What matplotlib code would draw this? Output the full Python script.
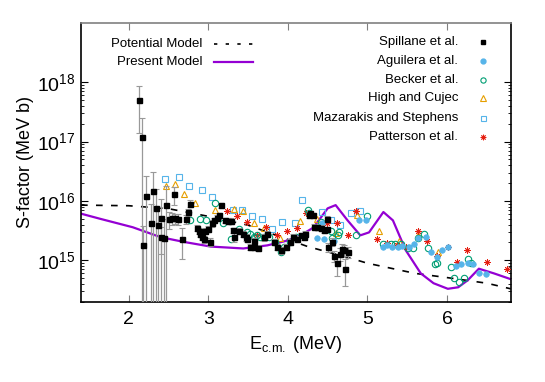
import matplotlib
matplotlib.use("Agg")
import matplotlib.pyplot as plt
import numpy as np

plt.rcParams['font.family'] = ['Liberation Sans', 'DejaVu Sans']
plt.rcParams['mathtext.fontset'] = 'custom'
plt.rcParams['mathtext.rm'] = 'Liberation Sans'
plt.rcParams['mathtext.it'] = 'Liberation Sans:italic'

# ---- model curves ----
pot_E = [1.40, 2.00, 2.50, 3.00, 3.50, 3.90, 4.25, 4.75, 5.00, 5.60, 6.00, 6.50, 6.80]
pot_S = [8.5e15, 8.3e15, 7.4e15, 5.5e15, 3.9e15, 2.5e15, 1.7e15, 1.12e15, 8.9e14,
         6.0e14, 5.1e14, 4.1e14, 3.3e14]

pres_E = [1.40, 1.64, 2.05, 2.40, 2.69, 3.03, 3.44, 3.74, 3.99, 4.16, 4.32, 4.50, 4.60,
          4.75, 4.91, 5.02, 5.20, 5.32, 5.48, 5.67, 5.83, 6.01, 6.14, 6.26, 6.40, 6.59, 6.80]
pres_S = [6.1e15, 5.0e15, 3.6e15, 2.45e15, 2.04e15, 1.7e15, 1.58e15, 1.78e15, 2.14e15,
          2.63e15, 3.55e15, 7.5e15, 8.5e15, 4.7e15, 2.63e15, 2.95e15, 6.5e15, 4.7e15,
          1.48e15, 6.0e14, 4.1e14, 3.3e14, 3.5e14, 4.6e14, 7.2e14, 6.0e14, 4.8e14]

# ---- Spillane et al. ----
spil_E = [2.13, 2.165, 2.185, 2.22, 2.28, 2.31, 2.34, 2.37, 2.40, 2.41,
          2.44, 2.47, 2.50, 2.54, 2.57, 2.58, 2.62, 2.67, 2.72, 2.74,
          2.77, 2.86, 2.88, 2.90, 2.92, 2.94, 2.96, 3.00, 3.02, 3.05,
          3.07, 3.11, 3.14, 3.16, 3.21, 3.25, 3.28, 3.31, 3.32, 3.38,
          3.44, 3.47, 3.49, 3.53, 3.57, 3.58, 3.63, 3.70, 3.74, 3.82,
          3.86, 3.91, 3.97, 4.03, 4.07, 4.12, 4.16, 4.20, 4.22, 4.26,
          4.28, 4.31, 4.33, 4.37, 4.41, 4.45, 4.49, 4.49, 4.51, 4.56,
          4.58, 4.62, 4.66, 4.68, 4.70, 4.72, 4.75]
spil_S = [5.0e17, 1.2e17, 1.8e15, 1.23e16, 4.3e15, 1.45e16, 7.6e15, 3.9e15, 2.45e15, 5.1e15,
          2.4e15, 8.7e15, 4.9e15, 5.1e15, 1.29e16, 5.1e15, 5.0e15, 2.24e15, 4.9e15, 6.5e15,
          9.0e15, 3.55e15, 3.16e15, 2.8e15, 2.5e15, 2.24e15, 3.16e15, 3.4e15, 2.04e15, 4.2e15,
          4.7e15, 5.25e15, 5.75e15, 8.5e15, 4.7e15, 4.6e15, 4.6e15, 3.2e15, 2.5e15, 3.16e15,
          2.8e15, 2.45e15, 2.3e15, 1.66e15, 2.14e15, 1.66e15, 1.62e15, 2.45e15, 2.8e15, 2.04e15,
          1.7e15, 1.48e15, 1.7e15, 2.04e15, 2.45e15, 2.3e15, 2.63e15, 2.5e15, 2.8e15, 5.75e15,
          6.2e15, 5.75e15, 3.7e15, 3.6e15, 3.5e15, 3.2e15, 3.3e15, 5.0e15, 1.66e15, 2.04e15,
          1.2e15, 8.9e14, 1.29e15, 1.55e15, 1.48e15, 7.2e14, 1.38e15]
spil_dS = [3.6e17, 1.3e17, 2.0e15, 1.4e16, 4.5e15, 1.6e16, 8.0e15, 4.0e15, 1.2e15, 5.5e15,
           2.5e15, 9.0e15, 1.5e15, 1.2e15, 4.5e15, 1.0e15, 1.0e15, 1.2e15, 8.0e14, 9.0e14,
           1.2e15, 4.0e14, 4.0e14, 3.5e14, 3.0e14, 3.0e14, 4.0e14, 4.0e14, 3.0e14, 5.0e14,
           5.0e14, 5.0e14, 6.0e14, 9.0e14, 5.0e14, 5.0e14, 5.0e14, 3.5e14, 5.0e14, 3.5e14,
           3.0e14, 3.0e14, 2.5e14, 2.0e14, 2.5e14, 2.0e14, 2.0e14, 3.0e14, 3.0e14, 2.5e14,
           2.0e14, 2.0e14, 2.0e14, 2.5e14, 3.0e14, 2.5e14, 3.0e14, 3.0e14, 3.0e14, 6.0e14,
           6.0e14, 6.0e14, 4.0e14, 4.0e14, 4.0e14, 3.5e14, 3.5e14, 5.0e14, 3.0e14, 3.0e14,
           2.5e14, 3.5e14, 3.0e14, 3.0e14, 3.0e14, 3.5e14, 3.0e14]

# ---- Aguilera et al. ----
agu_E = [4.37, 4.43, 4.45, 4.58, 4.89, 4.98, 5.19, 5.25, 5.31, 5.38, 5.44, 5.52, 5.59,
         5.64, 5.73, 5.80, 5.88, 5.94, 6.01, 6.11, 6.17, 6.26, 6.32, 6.40, 6.49]
agu_S = [2.35e15, 4.3e15, 2.3e15, 2.14e15, 4.7e15, 4.8e15, 1.66e15, 1.78e15, 1.7e15, 1.7e15,
         1.74e15, 1.66e15, 1.9e15, 2.4e15, 2.45e15, 1.38e15, 1.15e15, 1.48e15, 1.66e15,
         8.1e14, 8.7e14, 8.9e14, 8.5e14, 6.0e14, 5.9e14]

# ---- Becker et al. ----
bec_E = [2.77, 2.89, 2.97, 3.08, 3.18, 3.29, 3.38, 3.49, 3.52, 3.57, 3.61, 3.65, 3.70,
         3.76, 3.84, 3.91, 3.95, 4.03, 4.10, 4.25, 4.27, 4.41, 4.54, 4.64, 4.63, 4.56,
         4.85, 4.99, 5.19, 5.29, 5.35, 5.42, 5.51, 5.57, 5.64, 5.71, 5.76, 5.88, 5.85,
         6.05, 6.09, 6.15, 6.21, 6.26, 6.30]
bec_S = [4.8e15, 4.9e15, 4.7e15, 9.1e15, 4.2e15, 2.3e15, 3.3e15, 2.95e15, 2.8e15, 2.45e15,
         2.63e15, 2.45e15, 2.5e15, 2.45e15, 2.04e15, 1.38e15, 1.7e15, 2.04e15, 2.45e15,
         6.9e15, 6.2e15, 4.4e15, 3.16e15, 2.95e15, 2.63e15, 2.4e15, 2.63e15, 5.5e15,
         1.9e15, 1.9e15, 1.9e15, 1.9e15, 1.62e15, 1.62e15, 2.4e15, 2.8e15, 1.62e15,
         9.1e14, 8.5e14, 7.6e14, 5.1e14, 4.3e14, 5.1e14, 1.07e15, 8.9e14]

# ---- High and Cujec ----
hc_E = [2.47, 2.58, 2.69, 2.83, 3.08, 3.32, 3.44, 3.57, 3.70, 3.90, 4.15, 4.37, 4.60,
        4.87, 5.14, 5.40, 5.64, 5.89]
hc_S = [1.78e16, 1.95e16, 1.32e16, 9.3e15, 6.9e15, 7.4e15, 6.8e15, 4.3e15, 3.55e15,
        2.35e15, 4.6e15, 5.0e15, 2.9e15, 5.9e15, 3.1e15, 2.14e15, 2.63e15, 1.38e15]

# ---- Mazarakis and Stephens ----
maz_E = [2.46, 2.63, 2.76, 2.92, 3.05, 3.31, 3.42, 3.55, 3.68, 3.80, 3.93, 4.09, 4.18,
         4.43, 4.54, 4.66, 4.79, 4.91]
maz_S = [2.3e16, 2.5e16, 1.78e16, 1.5e16, 1.17e16, 6.9e15, 6.9e15, 5.5e15, 4.9e15,
         3.3e15, 4.4e15, 4.3e15, 1.02e16, 6.5e15, 4.7e15, 4.0e15, 6.3e15, 6.8e15]

# ---- Patterson et al. ----
pat_E = [3.23, 3.36, 3.49, 3.61, 3.73, 3.86, 3.99, 4.12, 4.23, 4.49, 4.62, 4.75, 4.86,
         5.12, 5.25, 5.37, 5.49, 5.63, 5.75, 5.88, 6.01, 6.12, 6.25, 6.50, 6.75]
pat_S = [6.8e15, 5.5e15, 4.4e15, 2.7e15, 3.7e15, 2.7e15, 3.1e15, 3.5e15, 6.3e15, 4.3e15,
         4.2e15, 2.7e15, 6.8e15, 2.3e15, 1.95e15, 1.78e15, 1.7e15, 3.16e15, 2.14e15,
         1.2e15, 1.7e15, 9.5e14, 1.51e15, 9.3e14, 7.2e14]

PURPLE = '#9400D3'
C_AGU = '#56B4E9'
C_BEC = '#009E73'
C_HC = '#E69F00'
C_MAZ = '#56B4E9'
C_PAT = '#E51E10'
ASTER = (8, 2, 0)

fig = plt.figure(figsize=(5.45, 3.82), dpi=100)
ax = fig.add_axes([81/545, (382-301.7)/382, 429.7/545, 278.7/382])

ax.plot(pot_E, pot_S, color='black', lw=1.2, dashes=(4, 5), zorder=2)
ax.plot(pres_E, pres_S, color=PURPLE, lw=1.6, zorder=2)

ax.plot(maz_E, maz_S, 's', ms=4.2, mfc='none', mec=C_MAZ, mew=0.8, zorder=3)
ax.plot(hc_E, hc_S, '^', ms=4.5, mfc='none', mec=C_HC, mew=0.8, zorder=3)
ax.plot(pat_E, pat_S, ls='none', marker=ASTER, ms=4.5, mec=C_PAT, mew=0.6, zorder=3)
ax.plot(bec_E, bec_S, 'o', ms=4.6, mfc='none', mec=C_BEC, mew=0.8, zorder=3)
ax.plot(agu_E, agu_S, 'o', ms=4.0, mfc=C_AGU, mec=C_AGU, mew=0.5, zorder=3)

eb = ax.errorbar(spil_E, spil_S, yerr=spil_dS, fmt='s', ms=3.6, color='black',
                 ecolor='0.6', elinewidth=0.9, capsize=2.2, capthick=0.8, zorder=4)
for cap in eb[1]:
    cap.set_color('0.3')

ax.set_yscale('log')
ax.set_xlim(1.4, 6.8)
ax.set_ylim(2e14, 1e19)

ax.set_xticks([2, 3, 4, 5, 6])
ax.set_yticks([1e15, 1e16, 1e17, 1e18])
ax.set_yticklabels([r'$\mathregular{10^{15}}$', r'$\mathregular{10^{16}}$',
                    r'$\mathregular{10^{17}}$', r'$\mathregular{10^{18}}$'])
minor = [m * 10.0**d for d in range(14, 18) for m in range(2, 10)]
ax.set_yticks(minor, minor=True)
ax.yaxis.set_minor_formatter(matplotlib.ticker.NullFormatter())

ax.tick_params(axis='both', which='both', direction='in', top=True, right=True, labelsize=14)
ax.tick_params(axis='x', which='major', length=5, color='0.5', width=0.8, pad=7)
ax.tick_params(axis='y', which='major', length=5, color='black', width=0.8, pad=4)
ax.tick_params(axis='y', which='minor', length=2.5, color='black', width=0.6)

for s in ['left', 'right', 'bottom']:
    ax.spines[s].set_linewidth(1.2)
ax.spines['top'].set_color('0.5')
ax.spines['top'].set_linewidth(1.2)

ax.set_xlabel(r'E$_{\mathregular{c.\!m.}}$ (MeV)', fontsize=13, labelpad=4)
ax.set_ylabel('S-factor (MeV b)', fontsize=13, labelpad=2)

# legends drawn gnuplot-style: right-aligned text, sample to the right
tr = ax.transAxes
fs = 9.5
ax.text(0.2816, 0.9247, 'Potential Model', transform=tr, ha='right', va='center', fontsize=fs)
ax.plot([0.3095, 0.3996], [0.9247, 0.9247], transform=tr, color='black', lw=1.2, dashes=(2, 5))
ax.text(0.2816, 0.859, 'Present Model', transform=tr, ha='right', va='center', fontsize=fs)
ax.plot([0.3095, 0.3996], [0.859, 0.859], transform=tr, color=PURPLE, lw=1.6)

rows = [0.9308, 0.8648, 0.7955, 0.7298, 0.6602, 0.592]
labels = ['Spillane et al.', 'Aguilera et al.', 'Becker et al.', 'High and Cujec',
          'Mazarakis and Stephens', 'Patterson et al.']
styles = [dict(marker='s', ms=3.5, mfc='black', mec='black'),
          dict(marker='o', ms=3.5, mfc=C_AGU, mec=C_AGU),
          dict(marker='o', ms=3.8, mfc='none', mec=C_BEC, mew=0.8),
          dict(marker='^', ms=3.8, mfc='none', mec=C_HC, mew=0.8),
          dict(marker='s', ms=3.6, mfc='none', mec=C_MAZ, mew=0.8),
          dict(marker=ASTER, ms=4.0, mec=C_PAT, mew=0.6)]
for yv, lab, st in zip(rows, labels, styles):
    ax.text(0.878, yv, lab, transform=tr, ha='right', va='center', fontsize=fs)
    ax.plot([0.9362], [yv], transform=tr, ls='none', **st)

fig.savefig('out.png', dpi=100)
